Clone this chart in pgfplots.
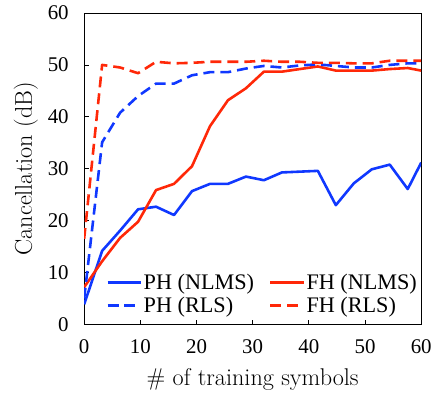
\documentclass[border=0pt]{standalone}
\usepackage{pgfplots}
\pgfplotsset{compat=1.18}
\usepackage{fontspec}
\newfontfamily\tms{Liberation Serif}
\definecolor{myblue}{RGB}{16,56,255}
\definecolor{myred}{RGB}{255,40,8}
\begin{document}
\begin{tikzpicture}
\begin{axis}[
  scale only axis,
  width=338.5pt, height=313pt,
  xmin=0, xmax=60, ymin=0, ymax=60,
  xtick={0,10,...,60}, ytick={0,10,...,60},
  xtick pos=bottom, ytick pos=left,
  tick align=inside,
  major tick length=5pt,
  axis line style={line width=0.8pt},
  tick style={line width=0.8pt, black},
  /pgf/number format/assume math mode=true,
  tick label style={font=\fontsize{21}{25}\tms},
  xticklabel style={yshift=-11pt},
  yticklabel style={xshift=-12pt},
  xlabel={\# of training symbols},
  ylabel={Cancellation (dB)},
  label style={font=\fontsize{24.3}{29}\selectfont},
  xlabel style={at={(axis description cs:0.5,-0.195)}, anchor=base},
  ylabel style={at={(axis description cs:-0.155,0.5)}, anchor=base},
  legend columns=2,
  legend cell align=left,
  legend style={draw=none, fill=none, font=\fontsize{22.3}{26}\tms,
    at={(axis description cs:0.065,0.03)}, anchor=south west,
    /tikz/every even column/.append style={column sep=14pt},
    nodes={inner sep=1pt}, row sep=4pt, inner sep=0pt},
  legend image code/.code={\draw[#1] (0pt,0pt) -- (34pt,0pt);},
  every axis plot/.append style={line width=2.6pt, line join=round},
]
\addplot[myblue] coordinates {(0,3.9) (3.2,14.2) (6.4,18.1) (9.6,22.2) (12.8,22.7) (16,21.1) (19.2,25.7) (22.4,27.1) (25.6,27.1) (28.8,28.5) (32,27.8) (35.2,29.3) (38.4,29.45) (41.6,29.6) (44.8,23.0) (48,27.2) (51.2,29.9) (54.4,30.8) (57.6,26.1) (60,31.2)};
\addlegendentry{PH (NLMS)}
\addplot[myred] coordinates {(0,7.2) (3.2,12.2) (6.4,16.7) (9.6,19.8) (12.8,25.9) (16,27.1) (19.2,30.5) (22.4,38.2) (25.6,43.2) (28.8,45.5) (32,48.7) (35.2,48.7) (38.4,49.2) (41.6,49.7) (44.8,48.9) (48,48.9) (51.2,48.9) (54.4,49.2) (57.6,49.4) (60,48.9)};
\addlegendentry{FH (NLMS)}
\addplot[myblue, dash pattern=on 11pt off 6pt] coordinates {(0,5.0) (3.2,35.1) (6.4,40.8) (9.6,44.0) (12.8,46.4) (16,46.4) (19.2,48.0) (22.4,48.6) (25.6,48.6) (28.8,49.3) (32,49.8) (35.2,49.5) (38.4,49.9) (41.6,50.1) (44.8,49.8) (48,49.5) (51.2,49.5) (54.4,50.0) (57.6,50.3) (60,50.3)};
\addlegendentry{PH (RLS)}
\addplot[myred, dash pattern=on 11pt off 6pt] coordinates {(0,16.5) (3.2,50.0) (6.4,49.5) (9.6,48.4) (12.8,50.6) (16,50.3) (19.2,50.4) (22.4,50.6) (25.6,50.6) (28.8,50.6) (32,50.8) (35.2,50.6) (38.4,50.6) (41.6,50.4) (44.8,50.4) (48,50.3) (51.2,50.3) (54.4,50.8) (57.6,50.8) (60,50.8)};
\addlegendentry{FH (RLS)}
\end{axis}
\path[use as bounding box] (-84.5pt,-73pt) rectangle (350.5pt,326pt);
\end{tikzpicture}
\end{document}
